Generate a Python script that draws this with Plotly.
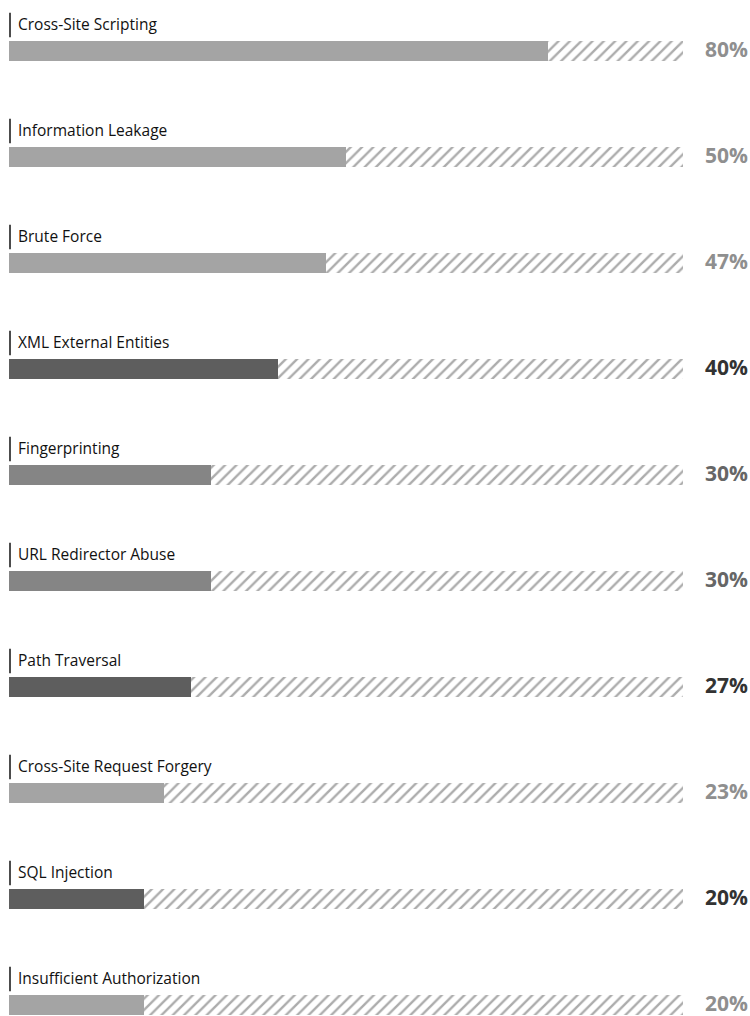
import plotly.graph_objects as go

categories = ["Cross-Site Scripting", "Information Leakage", "Brute Force", "XML External Entities",
              "Fingerprinting", "URL Redirector Abuse", "Path Traversal", "Cross-Site Request Forgery",
              "SQL Injection", "Insufficient Authorization"]
values = [80, 50, 47, 40, 30, 30, 27, 23, 20, 20]
bar_colors = ["#a4a4a4", "#a4a4a4", "#a4a4a4", "#5e5e5e", "#858585", "#858585", "#5e5e5e", "#a4a4a4", "#5e5e5e", "#a4a4a4"]
pct_colors = ["#8f8f8f", "#8f8f8f", "#8f8f8f", "#333333", "#666666", "#666666", "#333333", "#8f8f8f", "#333333", "#8f8f8f"]
total = 100

idx = list(range(len(categories)))
rest = [total - v for v in values]

fig = go.Figure()
fig.add_trace(go.Bar(y=idx, x=values, orientation="h", width=0.19,
                     marker=dict(color=bar_colors, line=dict(width=0)), hoverinfo="skip"))
fig.add_trace(go.Bar(y=idx, x=rest, base=values, orientation="h", width=0.19,
                     marker=dict(color="white", line=dict(width=0),
                                 pattern=dict(shape="/", fgcolor="#5a5a5a", bgcolor="white",
                                              size=8, solidity=0.3)),
                     hoverinfo="skip"))

annotations = []
shapes = []
for i, (c, v, pc) in enumerate(zip(categories, values, pct_colors)):
    annotations.append(dict(x=0, y=i - 0.255, xref="x", yref="y", text=c, showarrow=False,
                            xanchor="left", yanchor="middle", xshift=7,
                            font=dict(family="Open Sans", size=15.5, color="#111111")))
    annotations.append(dict(x=1, y=i, xref="paper", yref="y", text=f"<b>{v}%</b>", showarrow=False,
                            xanchor="right", yanchor="middle", xshift=0, yshift=2,
                            font=dict(family="Open Sans", size=21, color=pc)))
    shapes.append(dict(type="line", xref="x", yref="y", x0=0.15, x1=0.15, y0=i - 0.36, y1=i - 0.13,
                       line=dict(color="#111111", width=1.5)))

fig.update_layout(
    width=750, height=1016, margin=dict(l=0, r=0, t=0, b=0),
    paper_bgcolor="white", plot_bgcolor="white", barmode="overlay", showlegend=False,
    bargap=0,
    xaxis=dict(range=[-1.335, 110.0], visible=False, fixedrange=True),
    yaxis=dict(range=[9.104, -0.481], visible=False, fixedrange=True),
    annotations=annotations, shapes=shapes,
)

fig.write_html("out.html")
